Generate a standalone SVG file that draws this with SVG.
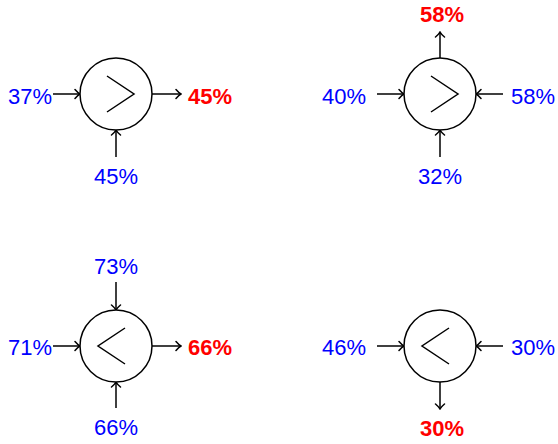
<svg xmlns="http://www.w3.org/2000/svg" width="558" height="444" viewBox="0 0 558 444">
<style>
.c{fill:#fff;stroke:#000;stroke-width:1.5}
.v{fill:none;stroke:#000;stroke-width:1.5;stroke-linejoin:miter}
.a{fill:none;stroke:#000;stroke-width:1.5;marker-end:url(#ah)}
text{font-family:"Liberation Sans",Arial,Helvetica,sans-serif;font-size:22px}
.in{fill:#0000ff}
.out{fill:#ff0000;font-weight:bold}
</style>
<defs>
<marker id="ah" viewBox="-7 -6 8 12" markerWidth="8" markerHeight="12" refX="0" refY="0" orient="auto" markerUnits="userSpaceOnUse">
<path d="M-5,-4.5 Q-2,-1 0,0 Q-2,1 -5,4.5" fill="none" stroke="#000" stroke-width="1.5" stroke-linecap="round"/>
</marker>
</defs>
<g id="connectors">
<line class="a" x1="53" y1="94" x2="80" y2="94"/>
<line class="a" x1="152" y1="94" x2="181" y2="94"/>
<line class="a" x1="116" y1="157" x2="116" y2="130"/>
<line class="a" x1="377" y1="94" x2="404" y2="94"/>
<line class="a" x1="503" y1="94" x2="476" y2="94"/>
<line class="a" x1="440" y1="157" x2="440" y2="130"/>
<line class="a" x1="440" y1="58" x2="440" y2="32"/>
<line class="a" x1="116" y1="282" x2="116" y2="310"/>
<line class="a" x1="53" y1="346" x2="80" y2="346"/>
<line class="a" x1="152" y1="346" x2="181" y2="346"/>
<line class="a" x1="116" y1="408" x2="116" y2="382"/>
<line class="a" x1="377" y1="346" x2="404" y2="346"/>
<line class="a" x1="503" y1="346" x2="476" y2="346"/>
<line class="a" x1="440" y1="382" x2="440" y2="409"/>
</g>
<g id="node-tl">
<circle class="c" cx="116" cy="94" r="36"/>
<path class="v" d="M107,76 L134,94 L107,112"/>
<text class="in" x="52" y="104" text-anchor="end">37%</text>
<text class="in" x="116" y="184" text-anchor="middle">45%</text>
<text class="out" x="188" y="104">45%</text>
</g>
<g id="node-tr">
<circle class="c" cx="440" cy="94" r="36"/>
<path class="v" d="M431,76 L458,94 L431,112"/>
<text class="in" x="366" y="104" text-anchor="end">40%</text>
<text class="in" x="511" y="104">58%</text>
<text class="in" x="440" y="184" text-anchor="middle">32%</text>
<text class="out" x="442" y="22" text-anchor="middle">58%</text>
</g>
<g id="node-bl">
<circle class="c" cx="116" cy="346" r="36"/>
<path class="v" d="M125,328 L98,346 L125,364"/>
<text class="in" x="116" y="274" text-anchor="middle">73%</text>
<text class="in" x="52" y="355" text-anchor="end">71%</text>
<text class="in" x="116" y="435" text-anchor="middle">66%</text>
<text class="out" x="188" y="355">66%</text>
</g>
<g id="node-br">
<circle class="c" cx="440" cy="346" r="36"/>
<path class="v" d="M449,328 L422,346 L449,364"/>
<text class="in" x="366" y="355" text-anchor="end">46%</text>
<text class="in" x="511" y="355">30%</text>
<text class="out" x="442" y="436" text-anchor="middle">30%</text>
</g>
</svg>
